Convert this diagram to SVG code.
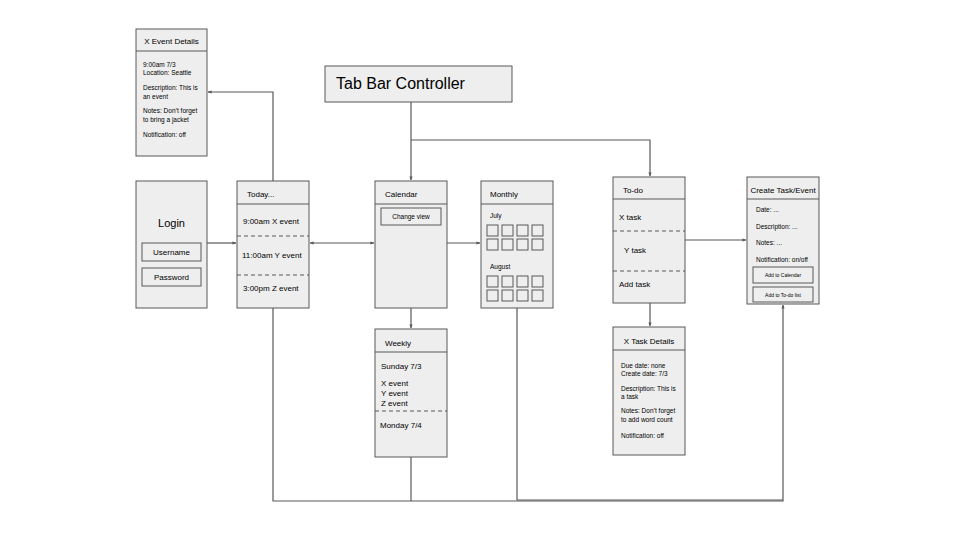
<svg xmlns="http://www.w3.org/2000/svg" width="960" height="540" viewBox="0 0 960 540">
<defs>
<marker id="ah" viewBox="0 0 10 10" refX="9" refY="5" markerWidth="4" markerHeight="4" orient="auto-start-reverse" markerUnits="userSpaceOnUse">
<path d="M0,1 L10,5 L0,9 z" fill="#595959"/>
</marker>
<style>
.box{fill:#eeeeee;stroke:#595959;stroke-width:1}
.btn{fill:none;stroke:#595959;stroke-width:1}
.sep{stroke:#595959;stroke-width:1}
.dash{stroke:#595959;stroke-width:1;stroke-dasharray:4,3}
.c{fill:none;stroke:#595959;stroke-width:1.2}
text{font-family:"Liberation Sans",Arial,sans-serif;fill:#000}
.t8{font-size:8px}
.t7{font-size:6.5px}
.t5{font-size:5px}
.mid{text-anchor:middle}
</style>
</defs>
<rect width="960" height="540" fill="#ffffff"/>

<g id="connectors">
<path class="c" d="M273,181 V92 H208" marker-end="url(#ah)"/>
<path class="c" d="M411,102 V180" marker-end="url(#ah)"/>
<path class="c" d="M411,140 H650 V176" marker-end="url(#ah)"/>
<path class="c" d="M207,243 H236" marker-end="url(#ah)"/>
<path class="c" d="M310,243 H374" marker-start="url(#ah)" marker-end="url(#ah)"/>
<path class="c" d="M447,243 H480" marker-end="url(#ah)"/>
<path class="c" d="M411,308 V328" marker-end="url(#ah)"/>
<path class="c" d="M685,240 H746" marker-end="url(#ah)"/>
<path class="c" d="M650,303 V326" marker-end="url(#ah)"/>
<path class="c" d="M273,308 V501 H783 V305" marker-end="url(#ah)"/>
<path class="c" d="M411,457 V501"/>
<path class="c" d="M517,308 V500 H783"/>
</g>

<g id="x-event-details">
<rect class="box" x="136" y="29" width="71" height="127"/>
<line class="sep" x1="136" y1="51" x2="207" y2="51"/>
<text class="t8 mid" x="171.5" y="44">X Event Details</text>
<text class="t7" x="143" y="67">9:00am 7/3</text>
<text class="t7" x="143" y="75">Location: Seattle</text>
<text class="t7" x="143" y="90">Description: This is</text>
<text class="t7" x="143" y="99">an event</text>
<text class="t7" x="143" y="113">Notes: Don’t forget</text>
<text class="t7" x="143" y="122">to bring a jacket</text>
<text class="t7" x="143" y="137">Notification: off</text>
</g>

<g id="tab-bar-controller">
<rect class="box" x="325" y="66" width="187" height="36"/>
<text x="336" y="89" style="font-size:16px">Tab Bar Controller</text>
</g>

<g id="login">
<rect class="box" x="136" y="181" width="71" height="127"/>
<text class="mid" x="171.5" y="227" style="font-size:11px">Login</text>
<rect class="btn" x="142" y="243" width="59" height="18"/>
<text class="t8 mid" x="171.5" y="255">Username</text>
<rect class="btn" x="142" y="268" width="59" height="18"/>
<text class="t8 mid" x="171.5" y="280">Password</text>
</g>

<g id="today">
<rect class="box" x="237" y="181" width="72" height="127"/>
<line class="sep" x1="237" y1="204" x2="309" y2="204"/>
<line class="dash" x1="237" y1="236" x2="309" y2="236"/>
<line class="dash" x1="237" y1="275" x2="309" y2="275"/>
<text class="t8" x="247" y="197">Today...</text>
<text class="t8" x="243" y="224">9:00am X event</text>
<text class="t8" x="242" y="258">11:00am Y event</text>
<text class="t8" x="243" y="291">3:00pm Z event</text>
</g>

<g id="calendar">
<rect class="box" x="375" y="181" width="72" height="127"/>
<line class="sep" x1="375" y1="204" x2="447" y2="204"/>
<text class="t8" x="385" y="197">Calendar</text>
<rect class="btn" x="381" y="208" width="60" height="17"/>
<text class="t7 mid" x="411" y="219">Change view</text>
</g>

<g id="monthly">
<rect class="box" x="481" y="181" width="72" height="127"/>
<line class="sep" x1="481" y1="204" x2="553" y2="204"/>
<text class="t8" x="490" y="197">Monthly</text>
<text class="t7" x="490" y="218">July</text>
<text class="t7" x="490" y="269">August</text>
<g class="btn">
<rect x="487" y="225" width="11" height="11"/><rect x="502" y="225" width="11" height="11"/><rect x="517" y="225" width="11" height="11"/><rect x="532" y="225" width="11" height="11"/>
<rect x="487" y="239" width="11" height="11"/><rect x="502" y="239" width="11" height="11"/><rect x="517" y="239" width="11" height="11"/><rect x="532" y="239" width="11" height="11"/>
<rect x="487" y="276" width="11" height="11"/><rect x="502" y="276" width="11" height="11"/><rect x="517" y="276" width="11" height="11"/><rect x="532" y="276" width="11" height="11"/>
<rect x="487" y="290" width="11" height="11"/><rect x="502" y="290" width="11" height="11"/><rect x="517" y="290" width="11" height="11"/><rect x="532" y="290" width="11" height="11"/>
</g>
</g>

<g id="todo">
<rect class="box" x="613" y="177" width="72" height="126"/>
<line class="sep" x1="613" y1="199" x2="685" y2="199"/>
<line class="dash" x1="613" y1="231" x2="685" y2="231"/>
<line class="dash" x1="613" y1="271" x2="685" y2="271"/>
<text class="t8" x="623" y="193">To-do</text>
<text class="t8" x="619" y="220">X task</text>
<text class="t8" x="624" y="253">Y task</text>
<text class="t8" x="619" y="287">Add task</text>
</g>

<g id="create-task-event">
<rect class="box" x="747" y="177" width="72" height="127"/>
<line class="sep" x1="747" y1="199" x2="819" y2="199"/>
<text class="t8 mid" x="783" y="193">Create Task/Event</text>
<text class="t7" x="756" y="212">Date: ...</text>
<text class="t7" x="756" y="229">Description: ...</text>
<text class="t7" x="756" y="245">Notes: ...</text>
<text class="t7" x="756" y="262">Notification: on/off</text>
<rect class="btn" x="753" y="267" width="60" height="16"/>
<text class="t5 mid" x="783" y="277">Add to Calendar</text>
<rect class="btn" x="753" y="287" width="60" height="15"/>
<text class="t5 mid" x="783" y="297">Add to To-do list</text>
</g>

<g id="weekly">
<rect class="box" x="375" y="329" width="72" height="128"/>
<line class="sep" x1="375" y1="352" x2="447" y2="352"/>
<line class="dash" x1="375" y1="411" x2="447" y2="411"/>
<text class="t8" x="385" y="346">Weekly</text>
<text class="t8" x="381" y="369">Sunday 7/3</text>
<text class="t8" x="381" y="386">X event</text>
<text class="t8" x="381" y="396">Y event</text>
<text class="t8" x="381" y="406">Z event</text>
<text class="t8" x="380" y="428">Monday 7/4</text>
</g>

<g id="x-task-details">
<rect class="box" x="613" y="327" width="72" height="128"/>
<line class="sep" x1="613" y1="350" x2="685" y2="350"/>
<text class="t8 mid" x="649" y="344">X Task Details</text>
<text class="t7" x="621" y="368">Due date: none</text>
<text class="t7" x="621" y="376">Create date: 7/3</text>
<text class="t7" x="621" y="391">Description: This is</text>
<text class="t7" x="621" y="399">a task</text>
<text class="t7" x="621" y="413">Notes: Don’t forget</text>
<text class="t7" x="621" y="422">to add word count</text>
<text class="t7" x="621" y="438">Notification: off</text>
</g>
</svg>
